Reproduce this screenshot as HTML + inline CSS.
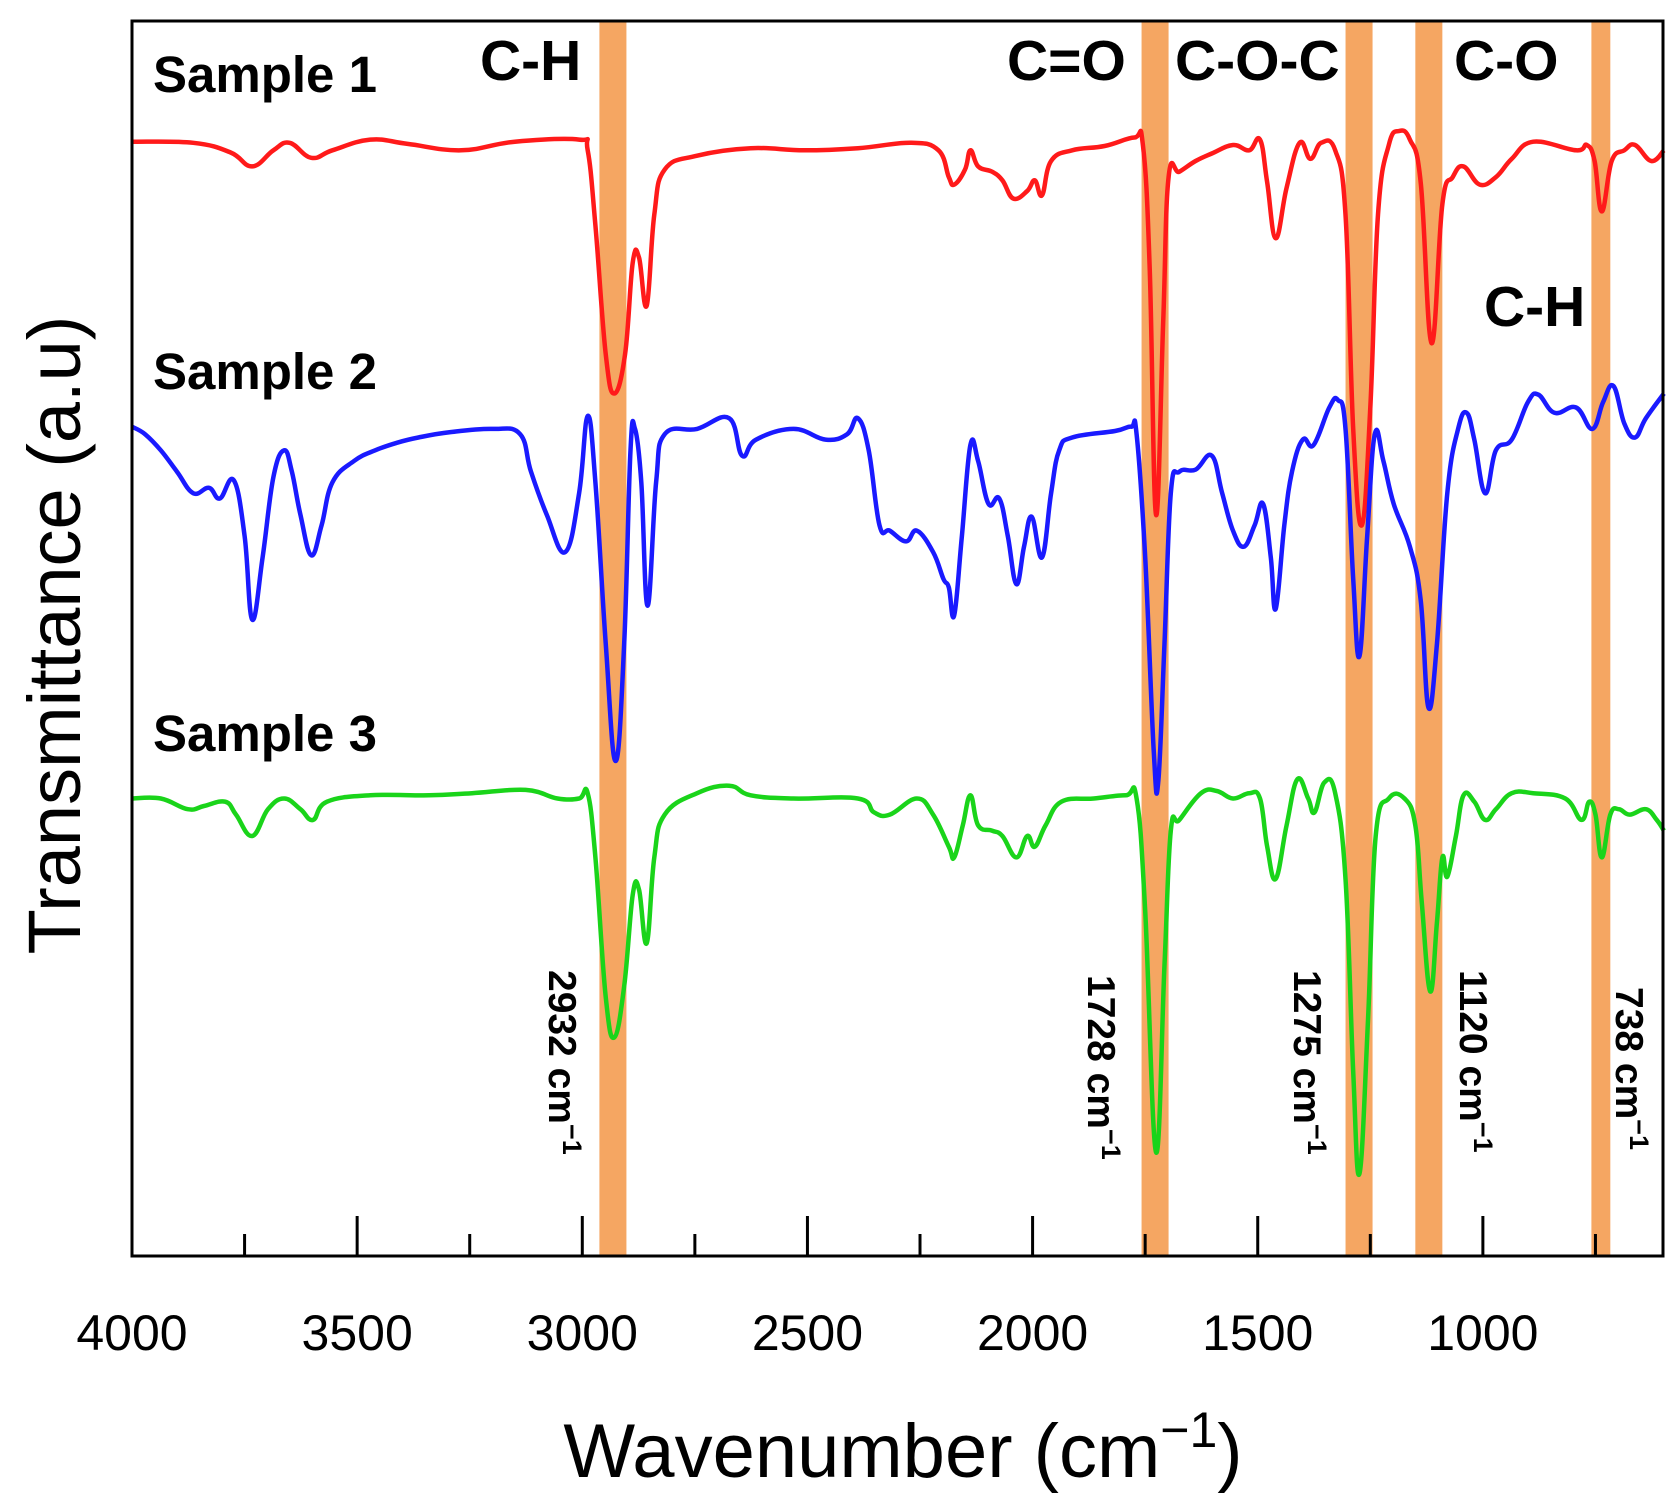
<!DOCTYPE html>
<html><head><meta charset="utf-8"><style>
html,body{margin:0;padding:0;background:#fff;}
svg{display:block;font-family:"Liberation Sans",Arial,sans-serif;}
</style></head><body>
<svg id="chart" width="1680" height="1506" viewBox="0 0 1680 1506" xmlns="http://www.w3.org/2000/svg">
<g id="bands"></g>
<g id="curves"></g>
<rect x="132" y="21" width="1531" height="1235" fill="none" stroke="#000" stroke-width="3"/>
<g id="ticks"></g>
<g font-weight="bold" fill="#000">
<text x="153" y="92" font-size="51">Sample 1</text>
<text x="153" y="389" font-size="51">Sample 2</text>
<text x="153" y="751" font-size="51">Sample 3</text>
<text x="480" y="80" font-size="57">C-H</text>
<text x="1007" y="80" font-size="57">C=O</text>
<text x="1175" y="80" font-size="57">C-O-C</text>
<text x="1454" y="80" font-size="57">C-O</text>
<text x="1484" y="326" font-size="57">C-H</text>
<g font-size="39">
<text transform="translate(549,970) rotate(90)">2932 cm<tspan font-size="27" dy="-14">−1</tspan></text>
<text transform="translate(1088,975) rotate(90)">1728 cm<tspan font-size="27" dy="-14">−1</tspan></text>
<text transform="translate(1294,970) rotate(90)">1275 cm<tspan font-size="27" dy="-14">−1</tspan></text>
<text transform="translate(1460,970) rotate(90)">1120 cm<tspan font-size="27" dy="-14">−1</tspan></text>
<text transform="translate(1616,987) rotate(90)">738 cm<tspan font-size="27" dy="-14">−1</tspan></text>
</g></g>
<g id="ticklabels" font-size="50" text-anchor="middle"></g>
<text x="903" y="1477" font-size="76" text-anchor="middle">Wavenumber (cm<tspan font-size="50" dy="-30">−1</tspan><tspan dy="30">)</tspan></text>
<text transform="translate(80,635) rotate(-90)" font-size="74" text-anchor="middle">Transmittance (a.u)</text>
</svg>
<script>
const bandCenters=[2932,1728,1275,1120,738];
const bandWidths=[60,60,60,60,42];
const tickValues=[4000,3750,3500,3250,3000,2750,2500,2250,2000,1750,1500,1250,1000,750];
const tickLabels=["4000","3500","3000","2500","2000","1500","1000"];
const s1w=[4000,3864,3781,3733,3686,3650,3602,3555,3471,3388,3269,3150,3007,2988,2971,2948,2929,2905,2888,2874,2857,2840,2817,2745,2626,2507,2388,2269,2209,2186,2174,2150,2138,2121,2090,2067,2043,2012,1995,1979,1959,1912,1840,1774,1755,1740,1726,1710,1698,1674,1638,1602,1555,1519,1495,1479,1460,1436,1407,1383,1359,1328,1305,1288,1269,1250,1233,1209,1186,1162,1138,1114,1090,1067,1043,1007,971,936,888,793,769,752,736,714,686,662,626,598];
const s1t=[104.0,103.9,103.0,101.7,103.2,103.9,102.5,103.2,104.2,103.8,103.2,104.0,104.2,103.2,96.2,84.2,80.5,84.2,92.7,93.2,88.7,97.2,101.4,102.7,103.4,103.2,103.4,103.9,103.2,100.7,100.0,101.4,103.2,101.7,101.2,100.4,98.7,99.4,100.4,99.0,102.2,103.2,103.6,104.4,103.7,92.2,69.2,87.2,100.7,101.2,102.2,102.9,103.7,103.2,104.2,100.2,95.0,99.7,103.9,102.4,103.9,103.2,97.2,77.2,68.2,79.2,97.2,103.7,105.0,104.2,100.2,85.2,98.2,100.7,101.7,100.0,100.7,102.4,104.0,103.2,103.7,102.2,97.5,102.2,103.2,103.7,102.2,103.2];
const s2w=[4000,3971,3936,3900,3864,3829,3805,3774,3750,3733,3710,3686,3662,3645,3626,3602,3579,3555,3507,3460,3412,3364,3293,3198,3138,3114,3079,3038,3007,2988,2971,2948,2926,2907,2893,2883,2869,2855,2836,2817,2745,2674,2645,2614,2531,2460,2412,2388,2364,2340,2317,2281,2257,2221,2198,2186,2174,2157,2138,2121,2098,2074,2055,2036,2019,2002,1979,1959,1941,1912,1817,1781,1769,1750,1731,1721,1707,1693,1674,1638,1602,1579,1555,1531,1507,1488,1471,1460,1441,1424,1400,1376,1341,1322,1305,1288,1274,1257,1240,1221,1198,1162,1138,1121,1102,1079,1055,1036,1019,995,971,936,900,877,841,793,757,733,710,686,662,638,598];
const s2t=[77.4,76.7,75.2,73.2,71.2,71.7,70.7,72.4,67.2,59.4,65.2,72.7,75.2,73.2,69.2,65.4,68.2,72.2,74.2,75.2,75.9,76.4,76.9,77.2,76.7,73.2,69.2,65.7,71.2,78.4,72.2,57.2,46.2,57.2,75.2,77.2,72.2,60.7,72.2,76.7,77.2,78.2,74.7,76.2,77.2,76.2,76.7,78.2,75.2,68.2,67.7,66.7,67.7,65.7,63.2,62.4,59.8,67.2,75.7,74.2,70.2,70.7,67.2,62.7,66.2,69.0,65.2,71.2,75.2,76.4,77.0,77.4,76.7,65.2,47.2,44.2,57.2,71.2,73.2,73.4,74.7,71.2,67.7,66.2,68.2,70.2,65.2,60.4,68.2,73.2,76.2,75.7,79.2,79.9,77.2,63.2,56.0,67.2,76.7,74.2,70.2,66.2,61.2,51.2,57.2,71.2,77.2,78.7,76.2,71.2,75.2,76.2,79.7,80.4,78.7,79.2,77.2,79.7,81.2,77.7,76.4,78.2,80.5];
const s3w=[4000,3936,3876,3840,3793,3769,3733,3698,3662,3626,3598,3567,3471,3340,3245,3126,3055,3007,2988,2971,2948,2929,2907,2888,2874,2857,2840,2817,2745,2674,2626,2531,2388,2352,2317,2257,2221,2186,2174,2155,2138,2121,2090,2067,2036,2012,1995,1971,1936,1864,1793,1769,1750,1726,1707,1693,1674,1626,1591,1555,1519,1495,1479,1460,1436,1412,1388,1374,1352,1328,1305,1288,1274,1255,1238,1209,1174,1150,1136,1117,1102,1090,1079,1060,1043,1019,995,971,936,888,817,781,764,750,736,717,698,674,638,614,598];
const s3t=[42.7,42.7,41.7,42.0,42.4,41.2,39.2,41.7,42.7,41.7,40.7,42.4,43.0,43.0,43.2,43.5,42.7,42.7,43.2,37.2,24.2,20.4,25.2,33.7,34.2,29.2,37.2,41.2,43.2,43.9,43.0,42.7,42.7,41.4,41.2,42.7,41.2,38.2,37.2,40.2,43.0,40.2,39.7,39.2,37.2,39.2,38.2,40.2,42.4,42.7,43.0,42.7,32.2,9.7,27.2,39.7,40.7,43.2,43.4,42.7,43.2,42.7,38.2,35.2,40.2,44.5,42.7,41.4,44.2,43.2,35.2,17.2,7.7,22.2,39.2,42.7,42.7,40.2,33.2,24.7,31.2,37.2,35.4,39.2,43.0,42.4,40.7,41.7,43.2,43.2,42.7,40.7,42.4,41.2,37.2,41.2,41.7,41.2,41.7,40.7,39.7];

const NS='http://www.w3.org/2000/svg';
function xScale(w){return 132+(4000-w)*(1531/3400);}
function yScale(t){return 1256-t*10.714;}

const bandG=document.getElementById('bands');
bandCenters.forEach((c,i)=>{
  const r=document.createElementNS(NS,'rect');
  
  
  const x1=xScale(c+bandWidths[i]/2),x2=xScale(c-bandWidths[i]/2);
  r.setAttribute('x',x1);r.setAttribute('width',x2-x1);
  r.setAttribute('y',21);r.setAttribute('height',1235);
  r.setAttribute('fill','#f5a662');
  bandG.appendChild(r);
});

function smoothPath(pts){
  let d='M'+pts[0][0].toFixed(1)+','+pts[0][1].toFixed(1);
  for(let i=0;i<pts.length-1;i++){
    const p0=pts[Math.max(0,i-1)],p1=pts[i],p2=pts[i+1],p3=pts[Math.min(pts.length-1,i+2)];
    const t=0.2;
    const c1=[p1[0]+(p2[0]-p0[0])*t,p1[1]+(p2[1]-p0[1])*t];
    const c2=[p2[0]-(p3[0]-p1[0])*t,p2[1]-(p3[1]-p1[1])*t];
    d+='C'+c1[0].toFixed(1)+','+c1[1].toFixed(1)+' '+c2[0].toFixed(1)+','+c2[1].toFixed(1)+' '+p2[0].toFixed(1)+','+p2[1].toFixed(1);
  }
  return d;
}

const curvesG=document.getElementById('curves');
[[s1w,s1t,'#ff1a1a','series-sample-1'],[s2w,s2t,'#1a1aff','series-sample-2'],[s3w,s3t,'#1ad41a','series-sample-3']].forEach(s=>{
  const p=document.createElementNS(NS,'path');
  
  
  const pts=s[0].map((w,i)=>[xScale(w),yScale(s[1][i])]);
  p.setAttribute('d',smoothPath(pts));
  p.setAttribute('fill','none');p.setAttribute('stroke',s[2]);
  p.setAttribute('stroke-width','4.5');p.setAttribute('stroke-linejoin','round');
  curvesG.appendChild(p);
});

const tickG=document.getElementById('ticks');
tickValues.forEach(v=>{
  const major=v%500===0;
  const l=document.createElementNS(NS,'line');
  
  
  const x=xScale(v);
  l.setAttribute('x1',x);l.setAttribute('x2',x);
  l.setAttribute('y1',1256);l.setAttribute('y2',major?1216:1234);
  l.setAttribute('stroke','#000');l.setAttribute('stroke-width','3');
  tickG.appendChild(l);
});
const tlG=document.getElementById('ticklabels');
tickLabels.forEach(s=>{
  const t=document.createElementNS(NS,'text');
  
  
  t.setAttribute('x',xScale(+s));t.setAttribute('y',1350);
  t.textContent=s;
  tlG.appendChild(t);
});
</script>
</body></html>
